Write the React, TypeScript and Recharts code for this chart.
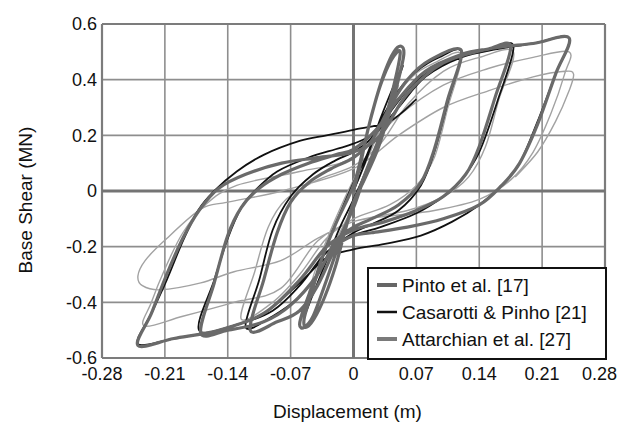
import { CartesianGrid, Legend, Line, LineChart, ReferenceLine, XAxis, YAxis } from "recharts";

// hysteresis loops, displacement (m) vs base shear (MN)
const xTicks = [-0.28, -0.21, -0.14, -0.07, 0, 0.07, 0.14, 0.21, 0.28];
const yTicks = [-0.6, -0.4, -0.2, 0, 0.2, 0.4, 0.6];

const pinto: [number, number][] = [
  [0, 0], [0.008, 0.1], [0.016, 0.22], [0.025, 0.33], [0.035, 0.43], [0.045, 0.5], [0.053, 0.52],
  [0.056, 0.49], [0.05, 0.4], [0.04, 0.28], [0.027, 0.15], [0.012, 0.04], [0, -0.04],
  [-0.01, -0.15], [-0.02, -0.27], [-0.032, -0.38], [-0.044, -0.46], [-0.053, -0.49],
  [-0.055, -0.46], [-0.048, -0.38], [-0.036, -0.25], [-0.02, -0.12], [0, 0.02],
  [0.01, 0.14], [0.02, 0.27], [0.03, 0.38], [0.042, 0.47], [0.052, 0.5],
  [0.045, 0.38], [0.03, 0.2], [0.012, 0.05], [0, -0.06], [-0.02, -0.2], [-0.04, -0.34],
  [-0.06, -0.43], [-0.085, -0.47], [-0.115, -0.5],
  [-0.1, -0.32], [-0.085, -0.15], [-0.07, -0.04], [-0.05, 0.03], [-0.025, 0.08], [0, 0.12],
  [0.02, 0.18], [0.04, 0.3], [0.06, 0.4], [0.085, 0.47], [0.12, 0.505],
  [0.105, 0.33], [0.09, 0.15], [0.075, 0.03], [0.05, -0.05], [0.02, -0.1], [0, -0.13],
  [-0.02, -0.18], [-0.04, -0.3], [-0.07, -0.41], [-0.1, -0.47], [-0.14, -0.5], [-0.17, -0.51],
  [-0.155, -0.33], [-0.14, -0.16], [-0.125, -0.06], [-0.105, 0.01], [-0.08, 0.06], [-0.05, 0.1],
  [-0.02, 0.13], [0, 0.15], [0.025, 0.22], [0.05, 0.33], [0.08, 0.43], [0.12, 0.49], [0.15, 0.51], [0.175, 0.52],
  [0.158, 0.34], [0.14, 0.16], [0.125, 0.06], [0.1, -0.02], [0.07, -0.07], [0.035, -0.11], [0, -0.14],
  [-0.03, -0.2], [-0.06, -0.32], [-0.1, -0.44], [-0.15, -0.5], [-0.2, -0.53], [-0.24, -0.555],
  [-0.225, -0.44], [-0.208, -0.3], [-0.19, -0.17], [-0.172, -0.07], [-0.15, 0.01], [-0.12, 0.06],
  [-0.08, 0.1], [-0.04, 0.12], [0, 0.14], [0.03, 0.2], [0.06, 0.35], [0.1, 0.46], [0.15, 0.51],
  [0.2, 0.53], [0.24, 0.55],
  [0.225, 0.42], [0.205, 0.24], [0.185, 0.1], [0.165, 0.02], [0.14, -0.05], [0.1, -0.1],
  [0.06, -0.13], [0.02, -0.15], [0, -0.16], [-0.02, -0.2], [-0.04, -0.3], [-0.055, -0.42],
  [-0.06, -0.48], [-0.055, -0.49], [-0.045, -0.45], [-0.03, -0.32], [-0.015, -0.18], [0, -0.05],
  [0.015, 0.08], [0.03, 0.2],
];

const casarotti: [number, number][] = [
  [0, 0], [0.015, 0.12], [0.03, 0.26], [0.045, 0.38], [0.055, 0.45],
  [0.045, 0.36], [0.03, 0.2], [0.015, 0.08], [0, -0.03], [-0.015, -0.13], [-0.03, -0.25],
  [-0.045, -0.37], [-0.055, -0.45],
  [-0.045, -0.35], [-0.03, -0.2], [-0.015, -0.08], [0, 0.03], [0.015, 0.13],
  [0.03, 0.25], [0.05, 0.36], [0.07, 0.43], [0.095, 0.48], [0.12, 0.5],
  [0.105, 0.32], [0.09, 0.14], [0.075, 0.02], [0.05, -0.07], [0.02, -0.12], [0, -0.15],
  [-0.02, -0.2], [-0.04, -0.3], [-0.06, -0.38], [-0.09, -0.45], [-0.12, -0.49],
  [-0.105, -0.32], [-0.09, -0.14], [-0.07, -0.02], [-0.045, 0.06], [-0.02, 0.11], [0, 0.14],
  [0.02, 0.19], [0.04, 0.28], [0.065, 0.38],
  [0.09, 0.44], [0.12, 0.48], [0.15, 0.505], [0.178, 0.52],
  [0.16, 0.32], [0.14, 0.14], [0.12, 0.04], [0.1, -0.02], [0.07, -0.08], [0.03, -0.13], [0, -0.16],
  [-0.03, -0.22], [-0.06, -0.34], [-0.09, -0.43], [-0.13, -0.48], [-0.172, -0.5],
  [-0.155, -0.32], [-0.14, -0.17], [-0.125, -0.06], [-0.11, 0], [-0.085, 0.07], [-0.05, 0.12],
  [-0.02, 0.15], [0, 0.17], [0.025, 0.21], [0.05, 0.3],
  [0.08, 0.41], [0.12, 0.48], [0.16, 0.51], [0.2, 0.53], [0.24, 0.55],
  [0.225, 0.42], [0.205, 0.25], [0.185, 0.1], [0.165, 0.02], [0.14, -0.05], [0.11, -0.11],
  [0.075, -0.16], [0.035, -0.19], [0, -0.21], [-0.03, -0.24], [-0.06, -0.33], [-0.1, -0.44],
  [-0.15, -0.5], [-0.2, -0.53], [-0.24, -0.55],
  [-0.225, -0.44], [-0.208, -0.32], [-0.19, -0.18], [-0.173, -0.07], [-0.155, 0], [-0.13, 0.07],
  [-0.1, 0.13], [-0.06, 0.18], [-0.03, 0.2], [0, 0.22], [0.04, 0.25], [0.07, 0.33],
];

const attarchian: [number, number][] = [
  [0, 0], [0.02, 0.15], [0.04, 0.3], [0.05, 0.38], [0.04, 0.27], [0.02, 0.1], [0, -0.05],
  [-0.02, -0.18], [-0.04, -0.3], [-0.05, -0.37], [-0.04, -0.26], [-0.02, -0.1], [0, 0.04],
  [0.02, 0.16], [0.04, 0.3], [0.065, 0.41], [0.09, 0.46], [0.12, 0.49],
  [0.105, 0.3], [0.09, 0.12], [0.07, 0.02], [0.04, -0.05], [0, -0.1], [-0.03, -0.17],
  [-0.06, -0.3], [-0.09, -0.4], [-0.125, -0.46],
  [-0.11, -0.29], [-0.095, -0.13], [-0.075, -0.03], [-0.04, 0.04], [0, 0.09], [0.03, 0.17],
  [0.06, 0.31], [0.1, 0.43], [0.14, 0.48], [0.178, 0.5],
  [0.162, 0.33], [0.147, 0.16], [0.128, 0.05], [0.1, -0.02], [0.06, -0.07], [0, -0.11],
  [-0.04, -0.18], [-0.081, -0.35], [-0.133, -0.4], [-0.19, -0.45], [-0.233, -0.485],
  [-0.225, -0.4], [-0.21, -0.28], [-0.19, -0.15], [-0.165, -0.05], [-0.13, 0.02], [-0.06, 0.07],
  [0, 0.12], [0.05, 0.27], [0.1, 0.38], [0.15, 0.44], [0.2, 0.48], [0.24, 0.5],
  [0.235, 0.42], [0.22, 0.28], [0.2, 0.14], [0.175, 0.04], [0.14, -0.03], [0.09, -0.07],
  [0.04, -0.09], [0, -0.11], [-0.04, -0.17], [-0.081, -0.25], [-0.133, -0.29], [-0.17, -0.33],
  [-0.215, -0.355], [-0.235, -0.34], [-0.24, -0.305], [-0.232, -0.25], [-0.211, -0.18],
  [-0.17, -0.065], [-0.14, -0.04], [-0.08, 0], [0, 0.08], [0.05, 0.2], [0.1, 0.3], [0.15, 0.36],
  [0.2, 0.41], [0.235, 0.43], [0.245, 0.42], [0.24, 0.36], [0.225, 0.25], [0.205, 0.14], [0.18, 0.05],
];

const toPoints = (pairs: [number, number][]) => pairs.map(([x, y]) => ({ x, y }));

// Catmull-Rom through every point, so reversals stay sharp-ish
const catmullRom = (context: any) => {
  let pts: number[][] = [];
  return {
    areaStart() {},
    areaEnd() {},
    lineStart() {
      pts = [];
    },
    point(x: number, y: number) {
      pts.push([+x, +y]);
    },
    lineEnd() {
      if (!pts.length) return;
      context.moveTo(pts[0][0], pts[0][1]);
      for (let i = 0; i < pts.length - 1; i++) {
        const p0 = pts[i - 1] || pts[i];
        const p1 = pts[i];
        const p2 = pts[i + 1];
        const p3 = pts[i + 2] || p2;
        context.bezierCurveTo(
          p1[0] + (p2[0] - p0[0]) / 6,
          p1[1] + (p2[1] - p0[1]) / 6,
          p2[0] - (p3[0] - p1[0]) / 6,
          p2[1] - (p3[1] - p1[1]) / 6,
          p2[0],
          p2[1]
        );
      }
    },
  };
};

const FONT = "'Liberation Sans', Arial, sans-serif";

const legendOrder = ["Pinto et al. [17]", "Casarotti & Pinho [21]", "Attarchian et al. [27]"];
const legendStroke: Record<string, { color: string; width: number }> = {
  "Pinto et al. [17]": { color: "#666", width: 4 },
  "Casarotti & Pinho [21]": { color: "#111", width: 2.5 },
  "Attarchian et al. [27]": { color: "#7a7a7a", width: 4 },
};

function LegendBox({ payload }: any) {
  const items = [...(payload || [])].sort(
    (a: any, b: any) => legendOrder.indexOf(a.value) - legendOrder.indexOf(b.value)
  );
  return (
    <svg width={240} height={93} style={{ display: "block" }}>
      <rect x={1} y={1} width={238} height={91} fill="#fff" stroke="#111" strokeWidth={2} />
      {items.map((it: any, i: number) => {
        const st = legendStroke[it.value];
        const cy = 18 + i * 27;
        return (
          <g key={it.value}>
            <line x1={10} x2={30} y1={cy} y2={cy} stroke={st.color} strokeWidth={st.width} />
            <text x={35} y={cy + 7} fontSize={19} fontFamily={FONT} fill="#111">
              {it.value}
            </text>
          </g>
        );
      })}
    </svg>
  );
}

function YTitle({ viewBox }: any) {
  const cx = viewBox.x + 32;
  const cy = viewBox.y + viewBox.height / 2 + 9;
  return (
    <text x={cx} y={cy} transform={`rotate(-90 ${cx} ${cy})`} textAnchor="middle" fontSize={19} fontFamily={FONT} fill="#111">
      Base Shear (MN)
    </text>
  );
}

function XTitle({ viewBox }: any) {
  const cx = viewBox.x + viewBox.width / 2 - 6;
  return (
    <text x={cx} y={viewBox.y + 60} textAnchor="middle" fontSize={19} fontFamily={FONT} fill="#111">
      Displacement (m)
    </text>
  );
}

const fmtX = (v: number) => (v === 0 ? "0" : v.toFixed(2));
const fmtY = (v: number) => (v === 0 ? "0" : v.toFixed(1));

// last x label is pulled in so it stays inside the canvas
function XTick({ x, y, payload }: any) {
  const last = payload.value === xTicks[xTicks.length - 1];
  return (
    <text
      x={last ? 617 : x}
      y={y}
      dy="0.71em"
      textAnchor={last ? "end" : "middle"}
      fontSize={18}
      fontFamily={FONT}
      fill="#111"
    >
      {fmtX(payload.value)}
    </text>
  );
}

export default function App() {
  const tickStyle = { fontSize: 18, fontFamily: FONT, fill: "#111" };
  return (
    <div style={{ position: "absolute", left: 0, top: 0, width: 618, height: 422, background: "#fff" }}>
      <LineChart width={618} height={422} margin={{ top: 24, right: 13, bottom: 0, left: 0 }}>
        <CartesianGrid stroke="#8e8e8e" strokeWidth={1.6} />
        <XAxis
          type="number"
          dataKey="x"
          domain={[-0.28, 0.28]}
          ticks={xTicks}
          interval={0}
          tick={<XTick />}
          tickLine={false}
          tickSize={0}
          tickMargin={9}
          axisLine={false}
          height={64}
          label={<XTitle />}
        />
        <YAxis
          type="number"
          dataKey="y"
          domain={[-0.6, 0.6]}
          ticks={yTicks}
          interval={0}
          tickFormatter={fmtY}
          tick={tickStyle}
          tickLine={false}
          tickSize={0}
          tickMargin={5}
          axisLine={false}
          width={102}
          label={<YTitle />}
        />
        <ReferenceLine x={-0.28} stroke="#7c7c7c" strokeWidth={2.2} />
        <ReferenceLine x={0.28} stroke="#7c7c7c" strokeWidth={2.2} />
        <ReferenceLine y={-0.6} stroke="#7c7c7c" strokeWidth={2.2} />
        <ReferenceLine y={0.6} stroke="#7c7c7c" strokeWidth={2.2} />
        <ReferenceLine x={0} stroke="#747474" strokeWidth={3} />
        <ReferenceLine y={0} stroke="#747474" strokeWidth={3} />
        <Line
          name="Attarchian et al. [27]"
          data={toPoints(attarchian)}
          dataKey="y"
          type={catmullRom as any}
          stroke="#a2a2a2"
          strokeWidth={1.4}
          dot={false}
          activeDot={false}
          isAnimationActive={false}
        />
        <Line
          name="Casarotti & Pinho [21]"
          data={toPoints(casarotti)}
          dataKey="y"
          type={catmullRom as any}
          stroke="#111"
          strokeWidth={1.8}
          dot={false}
          activeDot={false}
          isAnimationActive={false}
        />
        <Line
          name="Pinto et al. [17]"
          data={toPoints(pinto)}
          dataKey="y"
          type={catmullRom as any}
          stroke="#6a6a6a"
          strokeWidth={3.2}
          dot={false}
          activeDot={false}
          isAnimationActive={false}
        />
        <Legend
          layout="horizontal"
          verticalAlign="middle"
          align="center"
          content={<LegendBox />}
          wrapperStyle={{ left: 367, top: 267, width: 240, height: 93 }}
        />
      </LineChart>
    </div>
  );
}
